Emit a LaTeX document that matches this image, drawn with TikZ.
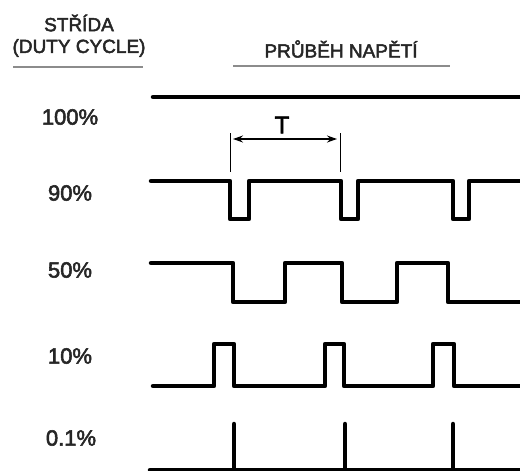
\documentclass[tikz,border=0pt]{standalone}
\usepackage{fontspec}
\setmainfont{Liberation Sans}
\newfontfamily\medfont{Liberation Sans}[UprightFeatures={FakeBold=2.5}]
\usetikzlibrary{arrows.meta}
\begin{document}
\begin{tikzpicture}[x=1pt,y=-1pt,
  hdr/.style={font=\medfont\fontsize{19}{21}\selectfont, text=black!85, inner sep=0pt, align=center},
  lbl/.style={font=\medfont\fontsize{22}{24}\selectfont, text=black!85, inner sep=0pt},
  rule/.style={draw=black!45, line width=2pt},
  wave/.style={draw=black, line width=4.5pt, line cap=round, line join=round},
  dim/.style={draw=black, line width=1pt}]
\useasboundingbox (0,0) rectangle (520,471);
% headers
\node[hdr] (h1) at (79,23) {STŘÍDA};
\node[hdr] (h2) at (79,48) {(DUTY CYCLE)};
\node[hdr] (h3) at (341,49) {PRŮBĚH NAPĚTÍ};
\draw[rule] (13,67) -- (143,67);
\draw[rule] (233,66) -- (450,66);
% labels
\node[lbl] (l100) at (70,117) {100\%};
\node[lbl] (l90) at (70,193) {90\%};
\node[lbl] (l50) at (70,270) {50\%};
\node[lbl] (l10) at (70,356) {10\%};
\node[lbl] (l01) at (71,438) {0.1\%};
% 100%
\draw[wave] (153,97) -- (522,97);
% 90%
\draw[wave] (151,181) -- (230,181) -- (230,219) -- (249,219) -- (249,181)
  -- (341,181) -- (341,219) -- (358,219) -- (358,181)
  -- (453,181) -- (453,219) -- (469,219) -- (469,181) -- (522,181);
% T dimension
\coordinate (ta) at (230,133);
\coordinate (tb) at (340,133);
\draw[dim] (ta) -- (230,172);
\draw[dim] (tb) -- (340,172);
\draw[dim, line width=1.3pt, {Stealth[length=10pt,width=7pt]}-{Stealth[length=10pt,width=7pt]}] (233,139) -- (337,139);
\node[font=\medfont\fontsize{24}{26}\selectfont, inner sep=0pt] (T) at (282,125) {T};
% 50%
\draw[wave] (151,263) -- (233,263) -- (233,302) -- (285,302) -- (285,263)
  -- (342,263) -- (342,302) -- (397,302) -- (397,263)
  -- (448,263) -- (448,302) -- (522,302);
% 10%
\draw[wave] (153,386) -- (214,386) -- (214,344) -- (234,344) -- (234,386)
  -- (325,386) -- (325,344) -- (344,344) -- (344,386)
  -- (433,386) -- (433,344) -- (454,344) -- (454,386) -- (522,386);
% 0.1%
\draw[wave] (150,470) -- (522,470);
\draw[wave] (234,424) -- (234,470);
\draw[wave] (345,424) -- (345,470);
\draw[wave] (453,424) -- (453,470);
\end{tikzpicture}
\end{document}
